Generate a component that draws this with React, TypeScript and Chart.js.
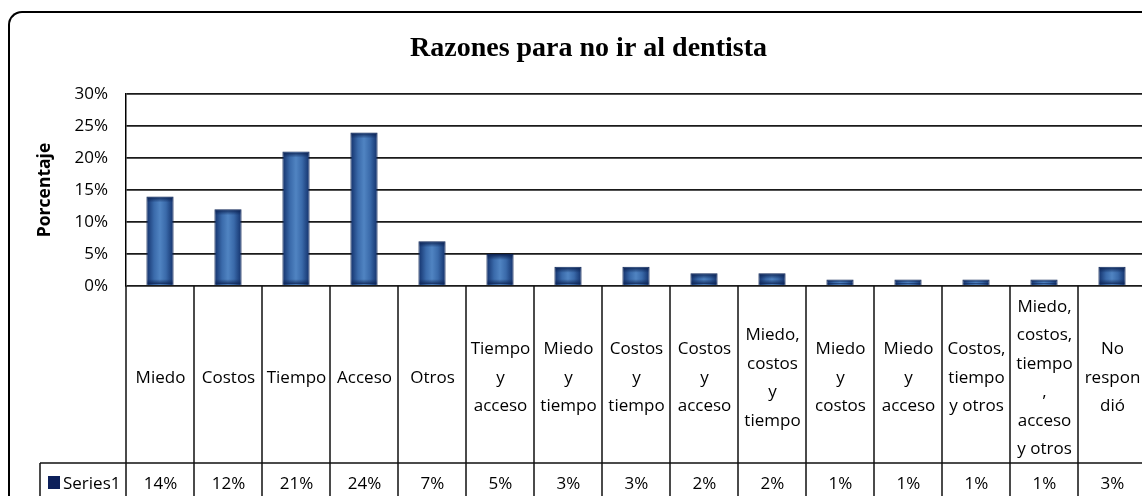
import React, { useEffect, useRef } from 'react';
import { Chart, registerables } from 'chart.js';

Chart.register(...registerables);

const TITLE = 'Razones para no ir al dentista';
const Y_TITLE = 'Porcentaje';
const SERIES_NAME = 'Series1';

const categories: string[][] = [
  ['Miedo'],
  ['Costos'],
  ['Tiempo'],
  ['Acceso'],
  ['Otros'],
  ['Tiempo', 'y', 'acceso'],
  ['Miedo', 'y', 'tiempo'],
  ['Costos', 'y', 'tiempo'],
  ['Costos', 'y', 'acceso'],
  ['Miedo,', 'costos', 'y', 'tiempo'],
  ['Miedo', 'y', 'costos'],
  ['Miedo', 'y', 'acceso'],
  ['Costos,', 'tiempo', 'y otros'],
  ['Miedo,', 'costos,', 'tiempo', ',', 'acceso', 'y otros'],
  ['No', 'respon', 'dió'],
];

const values: number[] = [14, 12, 21, 24, 7, 5, 3, 3, 2, 2, 1, 1, 1, 1, 3];

const Y_MAX = 30;
const Y_STEP = 5;

const CANVAS_W = 1176;
const CANVAS_H = 496;

const barGlowPlugin = {
  id: 'barGlow',
  afterDatasetsDraw(chart: any) {
    const { ctx } = chart;
    const meta = chart.getDatasetMeta(0);
    ctx.save();
    meta.data.forEach((bar: any) => {
      const { x, y, base, width } = bar.getProps(['x', 'y', 'base', 'width'], true);
      const left = x - width / 2 + 1;
      const w = width - 2;
      const h = base - y - 2;
      if (h <= 0) return;
      const d = Math.min(5, h / 2);
      const g1 = ctx.createLinearGradient(0, y + 1, 0, y + 1 + d);
      g1.addColorStop(0, 'rgba(12,34,82,0.85)');
      g1.addColorStop(1, 'rgba(12,34,82,0)');
      ctx.fillStyle = g1;
      ctx.fillRect(left, y + 1, w, d);
      const g2 = ctx.createLinearGradient(0, base - 1 - d, 0, base - 1);
      g2.addColorStop(0, 'rgba(12,34,82,0)');
      g2.addColorStop(1, 'rgba(12,34,82,0.85)');
      ctx.fillStyle = g2;
      ctx.fillRect(left, base - 1 - d, w, d);
    });
    ctx.restore();
  },
};

const dataTablePlugin = {
  id: 'dataTable',
  afterDraw(chart: any) {
    const { ctx, chartArea: ca } = chart;
    const xs = chart.scales.x;
    const n = categories.length;
    const H = chart.height;
    const W = chart.width;
    const rowY = ca.bottom + 177;
    const headerLeft = ca.left - 86;

    ctx.save();
    ctx.strokeStyle = '#111';
    ctx.lineWidth = 1.5;
    ctx.beginPath();
    for (let k = 0; k <= n; k++) {
      const px = xs.getPixelForValue(k - 0.5);
      ctx.moveTo(px, ca.bottom);
      ctx.lineTo(px, H);
    }
    ctx.moveTo(headerLeft, rowY);
    ctx.lineTo(W, rowY);
    ctx.moveTo(headerLeft, rowY);
    ctx.lineTo(headerLeft, H);
    ctx.stroke();

    ctx.fillStyle = '#000';
    ctx.font = '17px "Open Sans"';
    ctx.textAlign = 'center';
    ctx.textBaseline = 'middle';
    const lh = 28.5;
    const cy = ca.bottom + 92;
    for (let i = 0; i < n; i++) {
      const cx = xs.getPixelForValue(i) + 0.5;
      const lines = categories[i];
      const m = lines.length;
      lines.forEach((t, j) => {
        ctx.fillText(t, cx, cy + (j - (m - 1) / 2) * lh);
      });
      ctx.fillText(values[i] + '%', cx, rowY + 21);
    }

    ctx.fillStyle = '#0c1f5a';
    ctx.fillRect(headerLeft + 8, rowY + 13, 12, 13);
    ctx.fillStyle = '#000';
    ctx.textAlign = 'left';
    ctx.fillText(SERIES_NAME, headerLeft + 23, rowY + 21);
    ctx.restore();
  },
};

export default function App() {
  const canvasRef = useRef<HTMLCanvasElement | null>(null);

  useEffect(() => {
    const canvas = canvasRef.current;
    if (!canvas) return;
    const n = categories.length;
    const chart = new Chart(canvas, {
      type: 'bar',
      data: {
        labels: categories,
        datasets: [
          {
            label: SERIES_NAME,
            data: values,
            barPercentage: 0.4,
            categoryPercentage: 1.0,
            borderColor: '#0d2455',
            borderWidth: 1,
            backgroundColor: (c: any) => {
              const ch = c.chart;
              const xs = ch.scales && ch.scales.x;
              if (!xs || !ch.chartArea) return '#4f81bd';
              const cx = xs.getPixelForValue(c.dataIndex);
              const half = (xs.width / n) * 0.4 / 2;
              const g = ch.ctx.createLinearGradient(cx - half, 0, cx + half, 0);
              g.addColorStop(0, '#12306a');
              g.addColorStop(0.28, '#3a6aaa');
              g.addColorStop(0.5, '#5084c2');
              g.addColorStop(0.72, '#3a6aaa');
              g.addColorStop(1, '#12306a');
              return g;
            },
          },
        ],
      },
      options: {
        responsive: false,
        animation: false,
        devicePixelRatio: 1,
        layout: {
          padding: { left: 31, right: CANVAS_W - 1146, top: 0, bottom: CANVAS_H - 286 },
        },
        plugins: {
          legend: { display: false },
          tooltip: { enabled: false },
          title: {
            display: true,
            text: TITLE,
            color: '#000',
            font: { family: '"Liberation Serif"', size: 28, weight: 'bold' },
            padding: { top: 32, bottom: 28.4 },
          },
        },
        scales: {
          x: {
            display: false,
            offset: true,
            grid: { display: false },
          },
          y: {
            min: 0,
            max: Y_MAX,
            afterFit: (scale: any) => {
              scale.width = 95;
            },
            ticks: {
              stepSize: Y_STEP,
              padding: 18,
              color: '#000',
              font: { family: '"Open Sans"', size: 17 },
              callback: (v: any) => v + '%',
            },
            grid: {
              drawTicks: false,
              color: '#1a1a1a',
              lineWidth: 1.8,
            },
            border: { display: true, color: '#000', width: 1.5 },
            title: {
              display: true,
              text: Y_TITLE,
              color: '#000',
              font: { family: '"Open Sans"', size: 17.5, weight: 'bold' },
              padding: { top: 3.5, bottom: 0 },
            },
          },
        },
      },
      plugins: [barGlowPlugin, dataTablePlugin],
    } as any);
    return () => chart.destroy();
  }, []);

  return (
    <div
      style={{
        position: 'fixed',
        left: 0,
        top: 0,
        width: 1142,
        height: 496,
        overflow: 'hidden',
        background: '#fff',
      }}
    >
      <div
        style={{
          position: 'absolute',
          left: 8,
          top: 11,
          width: 2000,
          height: 1000,
          borderTop: '2px solid #000',
          borderLeft: '2px solid #000',
          borderTopLeftRadius: 14,
        }}
      />
      <canvas
        ref={canvasRef}
        width={CANVAS_W}
        height={CANVAS_H}
        style={{ position: 'absolute', left: 0, top: 0, width: CANVAS_W, height: CANVAS_H }}
      />
    </div>
  );
}
